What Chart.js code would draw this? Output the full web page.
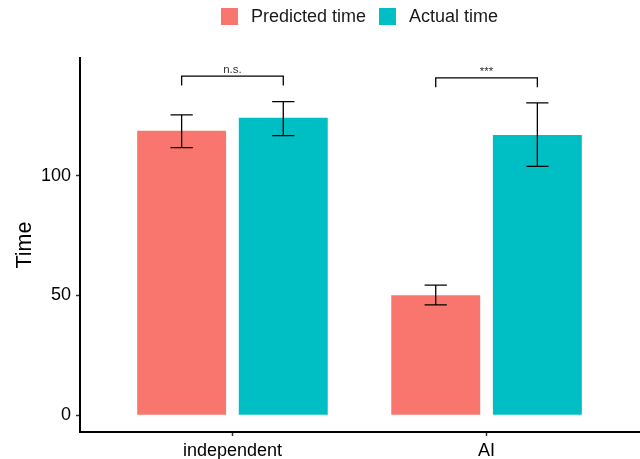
<!DOCTYPE html>
<html>
<head>
<meta charset="utf-8">
<script src="https://cdn.jsdelivr.net/npm/chart.js@4.4.1/dist/chart.umd.min.js"></script>
<style>
    html, body { margin: 0; padding: 0; background: #fff; }
    #wrap { width: 640px; height: 459px; }
</style>
</head>
<body>
<div id="wrap"><canvas id="myChart"></canvas></div>
<script>
// data
const groups = ['independent', 'AI'];
const predicted = [118.7, 50.1];
const actual = [124.2, 117.0];
const predictedLow = [111.7, 46.1];
const predictedHigh = [125.4, 54.3];
const actualLow = [116.7, 103.9];
const actualHigh = [130.9, 130.4];
const sigLabels = ['n.s.', '***'];
const sigY = [141.5, 140.8];
const sigTip = [137.6, 136.9];
const yTicks = [0, 50, 100];

const RED = '#F8766D';
const TEAL = '#00BFC4';

Chart.defaults.font.family = '"Liberation Sans", Arial, sans-serif';
Chart.defaults.color = '#000';

//-------------------------------
const errorBars = {
    id: 'errorBars',
    afterDatasetsDraw(chart) {
        const c = chart.ctx;
        const y = chart.scales.y;
        const lows = [predictedLow, actualLow];
        const highs = [predictedHigh, actualHigh];
        c.save();
        c.strokeStyle = '#000';
        c.lineWidth = 1.3;
        for (let d = 0; d < 2; d++) {
            chart.getDatasetMeta(d).data.forEach((bar, i) => {
                const half = bar.width * 0.125;
                const lo = y.getPixelForValue(lows[d][i]);
                const hi = y.getPixelForValue(highs[d][i]);
                c.beginPath();
                c.moveTo(bar.x, lo); c.lineTo(bar.x, hi);
                c.moveTo(bar.x - half, lo); c.lineTo(bar.x + half, lo);
                c.moveTo(bar.x - half, hi); c.lineTo(bar.x + half, hi);
                c.stroke();
            });
        }
        // significance brackets
        c.fillStyle = '#333';
        c.font = '11.5px "Liberation Sans", Arial, sans-serif';
        c.textAlign = 'center';
        c.textBaseline = 'alphabetic';
        sigLabels.forEach((lab, i) => {
            const x1 = chart.getDatasetMeta(0).data[i].x;
            const x2 = chart.getDatasetMeta(1).data[i].x;
            const top = y.getPixelForValue(sigY[i]);
            const tip = y.getPixelForValue(sigTip[i]);
            c.beginPath();
            c.moveTo(x1, tip); c.lineTo(x1, top); c.lineTo(x2, top); c.lineTo(x2, tip);
            c.stroke();
            c.fillText(lab, (x1 + x2) / 2, top - 3);
        });
        c.restore();
    }
};

const topLegend = {
    id: 'topLegend',
    afterDraw(chart) {
        const c = chart.ctx;
        const area = chart.chartArea;
        const items = chart.data.datasets.map(ds => ({ text: ds.label, color: ds.backgroundColor }));
        c.save();
        c.font = '18px "Liberation Sans", Arial, sans-serif';
        const box = 17, gap = 13, itemGap = 13;
        let total = 0;
        items.forEach((it, i) => {
            it.w = c.measureText(it.text).width;
            total += box + gap + it.w + (i > 0 ? itemGap : 0);
        });
        let x = (area.left + area.right) / 2 - total / 2;
        const top = 8;
        c.textBaseline = 'middle';
        c.textAlign = 'left';
        items.forEach((it, i) => {
            if (i > 0) x += itemGap;
            c.fillStyle = it.color;
            c.fillRect(x, top, box, box);
            x += box + gap;
            c.fillStyle = '#1a1a1a';
            c.fillText(it.text, x, top + box / 2 + 0.5);
            x += it.w;
        });
        c.restore();
    }
};

const ctx = document.getElementById('myChart');

new Chart(ctx, {
    type: 'bar',
    data: {
        datasets: [
            {
                label: 'Predicted time',
                data: predicted.map((v, i) => ({ x: i + 1, y: v })),
                backgroundColor: RED
            },
            {
                label: 'Actual time',
                data: actual.map((v, i) => ({ x: i + 1, y: v })),
                backgroundColor: TEAL
            }
        ]
    },
    options: {
        responsive: true,
        maintainAspectRatio: false,
        animation: false,
        categoryPercentage: 0.8,
        barPercentage: 0.875,
        layout: { padding: { top: 58, right: 1, left: 0, bottom: 0 } },
        scales: {
            x: {
                type: 'linear',
                min: 0.4,
                max: 2.6,
                offset: false,
                afterBuildTicks: s => { s.ticks = groups.map((g, i) => ({ value: i + 1 })); },
                afterFit: s => { s.height = 27; },
                ticks: {
                    callback: v => groups[v - 1],
                    font: { size: 18 },
                    color: '#000',
                    padding: 4,
                    maxRotation: 0
                },
                grid: { display: true, offset: false, drawOnChartArea: false, drawTicks: true, tickLength: 4, tickColor: '#333', tickWidth: 1.5 },
                border: { display: true, color: '#000', width: 2 }
            },
            y: {
                min: -7,
                max: 149.1,
                afterBuildTicks: s => { s.ticks = yTicks.map(v => ({ value: v })); },
                afterFit: s => { s.width = 80; },
                ticks: { font: { size: 18 }, color: '#000', padding: 5 },
                grid: { display: true, drawOnChartArea: false, drawTicks: true, tickLength: 4, tickColor: '#333', tickWidth: 1.5 },
                border: { display: true, color: '#000', width: 2 },
                title: { display: true, text: 'Time', font: { size: 21.5 }, color: '#000', padding: { top: 12, bottom: 0 } }
            }
        },
        plugins: {
            legend: { display: false },
            tooltip: { enabled: false }
        }
    },
    plugins: [errorBars, topLegend]
});
</script>
</body>
</html>
